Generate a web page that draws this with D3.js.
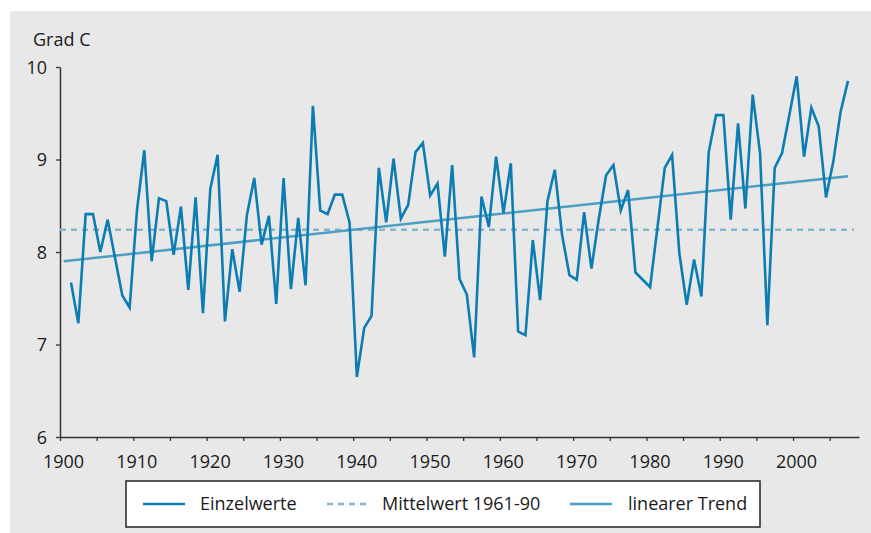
<!DOCTYPE html>
<html>
<head>
<meta charset="utf-8">
<script src="https://cdn.jsdelivr.net/npm/d3@7/dist/d3.min.js"></script>
<style>
  html, body { margin: 0; padding: 0; background: #fff; }
  svg { display: block; font-family: "Open Sans", "Noto Sans", sans-serif; }
</style>
</head>
<body>
<script>
// Jahresmitteltemperatur, Einzelwerte 1901-2007 (Grad C)
var years = d3.range(1901, 2008);
var values = [
  7.67, 7.23, 8.41, 8.41, 8.00, 8.35, 7.94, 7.53, 7.40, 8.45,
  9.10, 7.90, 8.58, 8.55, 7.97, 8.49, 7.59, 8.59, 7.34, 8.68,
  9.05, 7.25, 8.03, 7.57, 8.40, 8.80, 8.08, 8.39, 7.44, 8.80,
  7.60, 8.37, 7.64, 9.58, 8.45, 8.41, 8.62, 8.62, 8.32, 6.65,
  7.18, 7.31, 8.91, 8.32, 9.01, 8.36, 8.51, 9.08, 9.18, 8.61,
  8.74, 7.95, 8.94, 7.71, 7.54, 6.86, 8.60, 8.27, 9.03, 8.42,
  8.96, 7.14, 7.10, 8.13, 7.48, 8.55, 8.89, 8.18, 7.75, 7.70,
  8.43, 7.82, 8.36, 8.83, 8.94, 8.45, 8.67, 7.78, 7.70, 7.62,
  8.26, 8.91, 9.05, 7.98, 7.43, 7.92, 7.52, 9.08, 9.48, 9.48,
  8.35, 9.39, 8.47, 9.70, 9.07, 7.21, 8.91, 9.07, 9.48, 9.90,
  9.03, 9.56, 9.36, 8.59, 8.98, 9.52, 9.85
];
var meanValue = 8.24;                   // Mittelwert 1961-90
var trendYears = [1900.5, 2007.5];
var trendValues = [7.90, 8.82];         // linearer Trend
var xTicks = d3.range(1900, 2006, 5);
var yTicks = [6, 7, 8, 9, 10];
var legendLabels = ['Einzelwerte', 'Mittelwert 1961-90', 'linearer Trend'];

var width = 871, height = 533;
var colData = '#0b7db3', colTrend = '#4c9fc3', colMean = '#84b5cd';
var fontSize = '18px';

var svg = d3.select('body').append('svg')
  .attr('width', width)
  .attr('height', height);

// grey panel
svg.append('rect')
  .attr('x', 10).attr('y', 11)
  .attr('width', width - 10).attr('height', height - 11)
  .attr('fill', '#e8e8e8');

var x = d3.scaleLinear().domain([1900, 2009]).range([60, 859]);
var y = d3.scaleLinear().domain([6, 10]).range([437, 67]);

// axes
var xAxis = svg.append('g')
  .attr('transform', 'translate(0,' + y(6) + ')')
  .call(d3.axisBottom(x)
    .tickValues(xTicks)
    .tickSize(4)
    .tickSizeOuter(0)
    .tickFormat(function(d){ return d % 10 === 0 ? d : ''; }));

var yAxis = svg.append('g')
  .attr('transform', 'translate(' + x(1900) + ',0)')
  .call(d3.axisLeft(y)
    .tickValues(yTicks)
    .tickSize(4)
    .tickSizeOuter(0)
    .tickPadding(9)
    .tickFormat(d3.format('d')));

[xAxis, yAxis].forEach(function(g){
  g.select('.domain').attr('stroke', '#333').attr('stroke-width', 1.5);
  g.selectAll('.tick line').attr('stroke', '#333').attr('stroke-width', 1.3);
  g.selectAll('text')
    .attr('fill', '#1a1a1a')
    .style('font-size', fontSize)
    .style('font-family', '"Open Sans", "Noto Sans", sans-serif');
});
xAxis.selectAll('text').attr('y', 31).attr('dy', 0).attr('dx', 3);
yAxis.selectAll('text').attr('dy', '0.36em');

// unit label
svg.append('text')
  .attr('x', 33).attr('y', 46)
  .attr('fill', '#1a1a1a')
  .style('font-size', fontSize)
  .text('Grad C');

// mean 1961-90 (dashed)
svg.append('line')
  .attr('x1', x(1900)).attr('x2', x(2008.3))
  .attr('y1', y(meanValue)).attr('y2', y(meanValue))
  .attr('stroke', colMean)
  .attr('stroke-width', 2.5)
  .attr('stroke-dasharray', '6,5');

// linear trend
svg.append('path')
  .datum(d3.zip(trendYears, trendValues))
  .attr('fill', 'none')
  .attr('stroke', colTrend)
  .attr('stroke-width', 2.5)
  .attr('d', d3.line()
    .x(function(d){ return x(d[0]); })
    .y(function(d){ return y(d[1]); }));

// yearly values, plotted at mid-year
svg.append('path')
  .datum(d3.zip(years, values))
  .attr('fill', 'none')
  .attr('stroke', colData)
  .attr('stroke-width', 2.6)
  .attr('stroke-linejoin', 'miter')
  .attr('d', d3.line()
    .x(function(d){ return x(d[0] + 0.5); })
    .y(function(d){ return y(d[1]); }));

// legend
var legend = svg.append('g');
legend.append('rect')
  .attr('x', 126).attr('y', 481)
  .attr('width', 634).attr('height', 46)
  .attr('fill', '#fff')
  .attr('stroke', '#222')
  .attr('stroke-width', 1.5);

var items = [
  { x1: 143, x2: 185, tx: 200, color: colData, dash: null },
  { x1: 327, x2: 367, tx: 382, color: colMean, dash: '6,5' },
  { x1: 570, x2: 612, tx: 628, color: colTrend, dash: null }
];
items.forEach(function(it, i){
  legend.append('line')
    .attr('x1', it.x1).attr('x2', it.x2)
    .attr('y1', 504).attr('y2', 504)
    .attr('stroke', it.color)
    .attr('stroke-width', 2.6)
    .attr('stroke-dasharray', it.dash);
  legend.append('text')
    .attr('x', it.tx).attr('y', 510)
    .attr('fill', '#1a1a1a')
    .style('font-size', fontSize)
    .text(legendLabels[i]);
});
</script>
</body>
</html>
